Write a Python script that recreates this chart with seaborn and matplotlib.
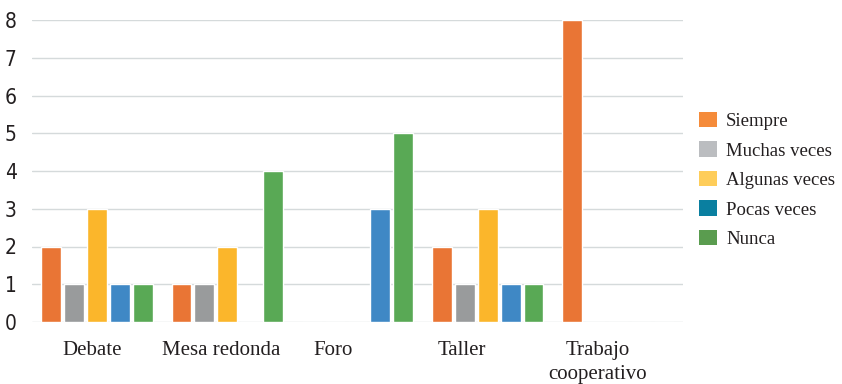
import matplotlib
matplotlib.use("Agg")
import matplotlib.pyplot as plt
import matplotlib.transforms as mtransforms
from matplotlib.patches import Patch
from matplotlib import font_manager
import seaborn as sns
import pandas as pd

categories = ["Debate", "Mesa redonda", "Foro", "Taller", "Trabajo\ncooperativo"]
series = ["Siempre", "Muchas veces", "Algunas veces", "Pocas veces", "Nunca"]

siempre = [2, 1, 0, 2, 8]
muchas_veces = [1, 1, 0, 1, 0]
algunas_veces = [3, 2, 0, 3, 0]
pocas_veces = [1, 0, 3, 1, 0]
nunca = [1, 4, 5, 1, 0]

y_ticks = [0, 1, 2, 3, 4, 5, 6, 7, 8]

bar_colors = ["#E97535", "#999B9C", "#FBB62B", "#3F88C5", "#59A955"]
legend_colors = ["#F58B3A", "#BBBDC0", "#FECD5A", "#0A7FA0", "#5A9C4F"]

values = [siempre, muchas_veces, algunas_veces, pocas_veces, nunca]
rows = []
for s, vals in zip(series, values):
    for c, v in zip(categories, vals):
        rows.append({"categoria": c, "frecuencia": s, "valor": v})
df = pd.DataFrame(rows)

sns.set_theme(style="white")
plt.rcParams["font.family"] = ["Liberation Serif", "DejaVu Serif"]

fig = plt.figure(figsize=(8.42, 3.84), dpi=100)
ax = fig.add_axes([32 / 842, 62 / 384, 651 / 842, 302 / 384])

sns.barplot(data=df, x="categoria", y="valor", hue="frecuencia",
            hue_order=series, order=categories, palette=bar_colors,
            width=0.88, gap=0.13, legend=False, ax=ax, saturation=1)

ax.set_xlim(-0.5, 4.5)
ax.set_ylim(0, 8)
ax.set_yticks(y_ticks)
ax.set_yticklabels([str(t) for t in y_ticks], family=["DejaVu Sans"],
                   fontstretch="condensed", fontsize=15, color="#231F20")
ax.yaxis.grid(True, color="#D5DADB", linewidth=1.0)
ax.set_axisbelow(True)
for sp in ax.spines.values():
    sp.set_visible(False)
ax.tick_params(axis="y", length=0, pad=11)
ax.tick_params(axis="x", length=0, pad=14, labelsize=15, colors="#231F20")
ax.set_xlabel("")
ax.set_ylabel("")

# category labels sit slightly left of their bar groups
label_shift_px = [-5, -6, -24, -26, -20]
for lbl, dx in zip(ax.get_xticklabels(), label_shift_px):
    lbl.set_linespacing(1.33)
    lbl.set_verticalalignment("top")
    lbl.set_transform(lbl.get_transform() +
                      mtransforms.ScaledTranslation(dx / 100, 0, fig.dpi_scale_trans))

handles = [Patch(facecolor=c, edgecolor="none") for c in legend_colors]
fig.legend(handles, series, loc="center left",
           bbox_to_anchor=(699 / 842, 1 - 180 / 384), frameon=False,
           fontsize=13.5, handlelength=0.95, handleheight=0.9,
           handletextpad=0.5, labelspacing=0.6, labelcolor="#231F20",
           borderpad=0, borderaxespad=0)

fig.savefig("out.png", dpi=100)
